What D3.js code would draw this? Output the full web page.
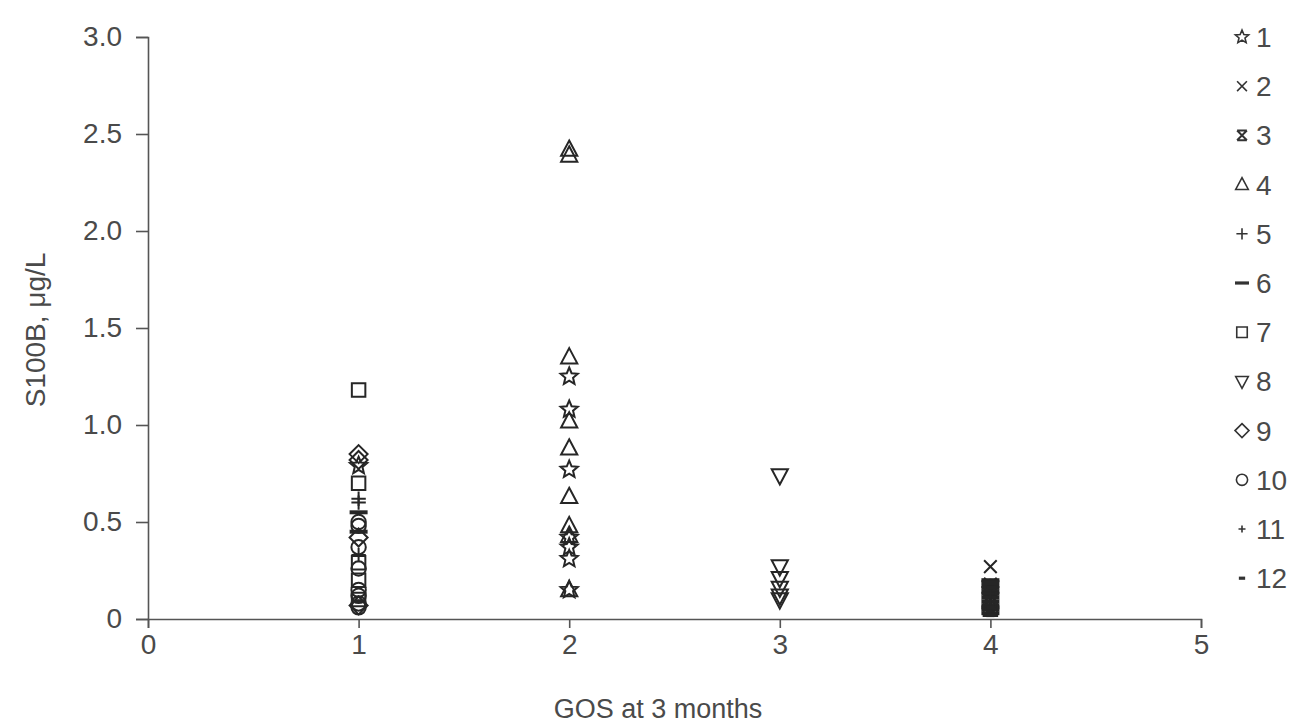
<!DOCTYPE html>
<html>
<head>
<meta charset="utf-8">
<script src="https://cdn.jsdelivr.net/npm/d3@7"></script>
<style>
  body { margin: 0; background: #fff; }
  text { font-family: "Liberation Sans", Arial, sans-serif; fill: #4a4a4a; }
</style>
</head>
<body>
<svg width="1296" height="726"></svg>
<script>
// series names, as in the legend
var seriesNames = ["1", "2", "3", "4", "5", "6", "7", "8", "9", "10", "11", "12"];
var markerTypes = ["star", "times", "asterisk", "triangle", "plus", "dash",
                   "square", "triangleDown", "diamond", "circle", "smallPlus", "smallDash"];

// GOS (x) and S100B (y) for each series
var gos = [
  [2, 2, 2, 2, 2, 2, 2, 1],
  [4, 4],
  [4, 4, 4],
  [2, 2, 2, 2, 2, 2, 2, 2, 2],
  [1, 1, 1, 4, 4],
  [4, 4, 4, 4, 4, 4, 4, 4, 4, 4, 4, 4, 1, 1],
  [1, 1, 1, 1, 1, 4],
  [3, 3, 3, 3, 3, 3],
  [1, 1, 1, 1],
  [1, 1, 1, 1, 1, 1, 1, 1],
  [4, 4, 4],
  [4, 4, 4, 1]
];
var s100b = [
  [1.25, 1.08, 0.77, 0.42, 0.37, 0.31, 0.15, 0.79],
  [0.27, 0.18],
  [0.15, 0.10, 0.08],
  [2.42, 2.39, 1.35, 1.02, 0.88, 0.63, 0.48, 0.43, 0.15],
  [0.62, 0.60, 0.33, 0.17, 0.12],
  [0.20, 0.19, 0.17, 0.16, 0.14, 0.13, 0.11, 0.09, 0.07, 0.06, 0.05, 0.03, 0.55, 0.45],
  [1.18, 0.70, 0.29, 0.20, 0.10, 0.05],
  [0.74, 0.27, 0.21, 0.16, 0.12, 0.10],
  [0.85, 0.82, 0.42, 0.07],
  [0.50, 0.48, 0.37, 0.26, 0.15, 0.12, 0.08, 0.06],
  [0.13, 0.07, 0.04],
  [0.16, 0.06, 0.02, 0.09]
];

var xTicks = [0, 1, 2, 3, 4, 5];
var yTicks = [0, 0.5, 1.0, 1.5, 2.0, 2.5, 3.0];

var svg = d3.select("svg");

var x = d3.scaleLinear().domain([0, 5]).range([148, 1201]);
var y = d3.scaleLinear().domain([0, 3]).range([619, 37]);

// marker path, r = half size
function marker(type, r) {
  var p = d3.path();
  if (type == "star") {
    for (var i = 0; i < 10; i++) {
      var a = -Math.PI / 2 + i * Math.PI / 5;
      var rr = i % 2 == 0 ? r : r * 0.45;
      if (i == 0) p.moveTo(rr * Math.cos(a), rr * Math.sin(a));
      else p.lineTo(rr * Math.cos(a), rr * Math.sin(a));
    }
    p.closePath();
  } else if (type == "times") {
    var k = r * 0.7;
    p.moveTo(-k, -k); p.lineTo(k, k); p.moveTo(k, -k); p.lineTo(-k, k);
  } else if (type == "asterisk") {
    var k = r * 0.7;
    p.moveTo(-k, -k); p.lineTo(k, k); p.moveTo(k, -k); p.lineTo(-k, k);
    p.moveTo(-k, -k); p.lineTo(k, -k); p.moveTo(-k, k); p.lineTo(k, k);
  } else if (type == "triangle") {
    p.moveTo(0, -r); p.lineTo(r * 0.9, r * 0.7); p.lineTo(-r * 0.9, r * 0.7); p.closePath();
  } else if (type == "triangleDown") {
    p.moveTo(0, r); p.lineTo(r * 0.9, -r * 0.7); p.lineTo(-r * 0.9, -r * 0.7); p.closePath();
  } else if (type == "plus") {
    p.moveTo(-r * 0.8, 0); p.lineTo(r * 0.8, 0); p.moveTo(0, -r * 0.8); p.lineTo(0, r * 0.8);
  } else if (type == "smallPlus") {
    p.moveTo(-r * 0.5, 0); p.lineTo(r * 0.5, 0); p.moveTo(0, -r * 0.5); p.lineTo(0, r * 0.5);
  } else if (type == "dash") {
    p.moveTo(-r, 0); p.lineTo(r, 0);
  } else if (type == "smallDash") {
    p.moveTo(-r * 0.45, 0); p.lineTo(r * 0.45, 0);
  } else if (type == "square") {
    var k = r * 0.75;
    p.rect(-k, -k, 2 * k, 2 * k);
  } else if (type == "diamond") {
    p.moveTo(0, -r); p.lineTo(r, 0); p.lineTo(0, r); p.lineTo(-r, 0); p.closePath();
  } else if (type == "circle") {
    p.arc(0, 0, r * 0.8, 0, 2 * Math.PI);
  }
  return p.toString();
}

function strokeW(type) {
  if (type == "dash" || type == "smallDash") return 4;
  if (type == "asterisk") return 2.4;
  return 2;
}

// axes
var yAxis = d3.axisLeft(y).tickValues(yTicks).tickSize(12).tickPadding(14)
  .tickFormat(function (d) { return d == 0 ? "0" : d3.format(".1f")(d); });
var gy = svg.append("g").attr("transform", "translate(148,0)").call(yAxis);

var xAxis = d3.axisBottom(x).tickValues(xTicks).tickSize(9).tickPadding(6)
  .tickFormat(d3.format("d"));
var gx = svg.append("g").attr("transform", "translate(0,619)").call(xAxis);

[gy, gx].forEach(function (g) {
  g.select(".domain").attr("stroke", "#555").attr("stroke-width", 1.6);
  g.selectAll(".tick line").attr("stroke", "#555").attr("stroke-width", 1.6);
  g.selectAll(".tick text").style("font-size", "28px").attr("fill", "#4a4a4a")
    .style("font-family", "Liberation Sans, Arial, sans-serif");
});

svg.append("text")
  .attr("transform", "translate(45,330) rotate(-90)")
  .attr("text-anchor", "middle")
  .style("font-size", "28px")
  .text("S100B, μg/L");

svg.append("text")
  .attr("x", 658).attr("y", 718)
  .attr("text-anchor", "middle")
  .style("font-size", "27px")
  .text("GOS at 3 months");

// points
seriesNames.forEach(function (name, i) {
  var pts = gos[i].map(function (g, j) { return [g, s100b[i][j]]; });
  svg.append("g").attr("class", "series-" + name)
    .selectAll("path")
    .data(pts).enter().append("path")
    .attr("transform", function (d) { return "translate(" + x(d[0]) + "," + y(d[1]) + ")"; })
    .attr("d", marker(markerTypes[i], 9))
    .attr("fill", "none")
    .attr("stroke", "#262626")
    .attr("stroke-width", strokeW(markerTypes[i]));
});

// legend
var legend = svg.append("g").selectAll("g")
  .data(seriesNames).enter().append("g")
  .attr("transform", function (d, i) { return "translate(1242," + (37 + i * 49.2) + ")"; });

legend.append("path")
  .attr("d", function (d, i) { return marker(markerTypes[i], 7); })
  .attr("fill", "none")
  .attr("stroke", "#333")
  .attr("stroke-width", function (d, i) { return strokeW(markerTypes[i]) * 0.8; });

legend.append("text")
  .attr("x", 14).attr("y", 10)
  .style("font-size", "28px")
  .text(function (d) { return d; });
</script>
</body>
</html>
